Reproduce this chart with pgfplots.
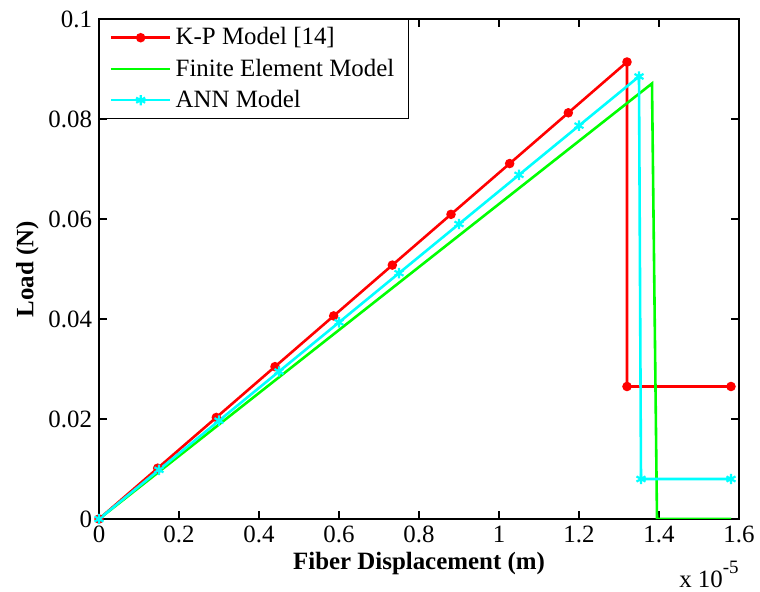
\documentclass[border=0pt]{standalone}
\usepackage{pgfplots}
\pgfplotsset{compat=1.18}
\usepackage{fontspec}
\setmainfont{Liberation Serif}
\definecolor{kpred}{RGB}{255,0,0}
\definecolor{fegreen}{RGB}{0,255,0}
\definecolor{anncyan}{RGB}{0,255,255}
\begin{document}
\begin{tikzpicture}
\begin{axis}[
    scale only axis,
    width=320bp,
    height=250bp,
    xmin=0, xmax=1.6,
    ymin=0, ymax=0.1,
    xtick={0,0.2,...,1.6},
    ytick={0,0.02,...,0.1},
    xticklabels={0,0.2,0.4,0.6,0.8,1,1.2,1.4,1.6},
    yticklabels={0,0.02,0.04,0.06,0.08,0.1},
    tick align=inside,
    tick pos=both,
    major tick length=4bp,
    axis line style={black, line width=0.6pt},
    tick style={black, line width=0.6pt},
    ticklabel style={font=\fontsize{12.5}{14}\selectfont},
    xlabel={\textbf{Fiber Displacement (m)}},
    ylabel={\textbf{Load (N)}},
    label style={font=\fontsize{12.5}{14}\selectfont},
    xlabel style={yshift=2bp},
    ylabel style={yshift=-2bp},
    /pgf/number format/assume math mode=true,
    legend cell align=left,
    legend style={font=\fontsize{12.5}{14}\selectfont, draw=black, line width=0.6pt,
        inner xsep=5bp, inner ysep=2bp, row sep=1.5bp, at={(0,1)}, anchor=north west},
    legend image code/.code={\draw[#1, line width=1.3pt] (0cm,0cm) -- (1.05cm,0cm); \draw[#1, only marks] plot coordinates {(0.525cm,0cm)};},
]
\addplot[kpred, line width=1.3pt, mark=*, mark size=1.7pt] coordinates {
(0,0)(0.1467,0.01016)(0.2933,0.02031)(0.44,0.03047)(0.5867,0.04062)(0.7333,0.05078)(0.88,0.06093)(1.0267,0.07109)(1.1733,0.08124)(1.32,0.0914)
(1.32,0.0265)(1.58,0.0265)};
\addlegendentry{K-P Model [14]}
\addplot[fegreen, line width=1.3pt] coordinates {
(0,0)(1.3825,0.0871)(1.395,0)(1.58,0)};
\addlegendentry{Finite Element Model}
\addplot[anncyan, line width=1.3pt, mark=asterisk, mark size=2.6pt, mark options={line width=1.1pt}] coordinates {
(0,0)(0.15,0.00983)(0.30,0.01967)(0.45,0.0295)(0.60,0.03933)(0.75,0.04917)(0.90,0.059)(1.05,0.06883)(1.20,0.07867)(1.35,0.0885)
(1.355,0.008)(1.58,0.008)};
\addlegendentry{ANN Model}
\end{axis}
\node[anchor=base east, inner sep=0pt, font=\fontsize{12.5}{14}\selectfont] at (320bp,-34bp) {x 10\raisebox{1.15ex}{\fontsize{9.5}{10}\selectfont -5}};
\pgfresetboundingbox
\path[use as bounding box] (-49.5bp,-36.5bp) rectangle (330.5bp,259.5bp);
\end{tikzpicture}
\end{document}
